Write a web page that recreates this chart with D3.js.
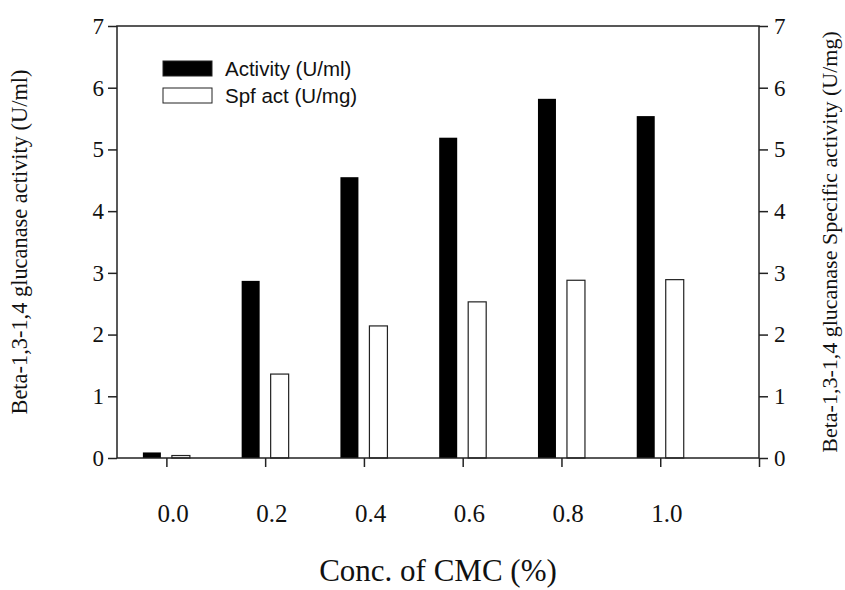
<!DOCTYPE html>
<html>
<head>
<meta charset="utf-8">
<script src="https://cdn.jsdelivr.net/npm/d3@7"></script>
<style>
  body { margin: 0; background: #fff; }
  svg { display: block; }
</style>
</head>
<body>
<div id="chart"></div>
<script>
// data
var concs = [0.0, 0.2, 0.4, 0.6, 0.8, 1.0];
var activity = [0.09, 2.87, 4.55, 5.19, 5.82, 5.54];   // U/ml
var spfAct = [0.04, 1.36, 2.14, 2.53, 2.88, 2.89];     // U/mg
var xTicks = [0.0, 0.2, 0.4, 0.6, 0.8, 1.0, 1.2];
var yTicks = [0, 1, 2, 3, 4, 5, 6, 7];
var legendNames = ['Activity (U/ml)', 'Spf act (U/mg)'];

const width = 845;
const height = 590;
const margin = {top: 26, right: 86, bottom: 132, left: 117};

const svg = d3.select('#chart').append('svg').attr('width', width).attr('height', height);

const x = d3.scaleLinear().domain([-0.1, 1.2]).range([margin.left, width - margin.right]);
const yL = d3.scaleLinear().domain([0, 7]).range([height - margin.bottom, margin.top]);
const yR = d3.scaleLinear().domain([0, 7]).range([height - margin.bottom, margin.top]);

const barW = 18;
const off = 14.5;

// bars
svg.append('g').selectAll('rect')
  .data(concs)
  .enter()
  .append('rect')
  .attr('x', (d) => x(d) - off - barW / 2)
  .attr('y', (d, i) => yL(activity[i]))
  .attr('width', barW)
  .attr('height', (d, i) => yL(0) - yL(activity[i]))
  .attr('fill', '#000');

svg.append('g').selectAll('rect')
  .data(concs)
  .enter()
  .append('rect')
  .attr('x', (d) => x(d) + off - barW / 2)
  .attr('y', (d, i) => yR(spfAct[i]))
  .attr('width', barW)
  .attr('height', (d, i) => yR(0) - yR(spfAct[i]))
  .attr('fill', '#fff')
  .attr('stroke', '#222')
  .attr('stroke-width', 1.2);

// frame
svg.append('rect')
  .attr('x', margin.left)
  .attr('y', margin.top)
  .attr('width', width - margin.left - margin.right)
  .attr('height', height - margin.top - margin.bottom)
  .attr('fill', 'none')
  .attr('stroke', '#222')
  .attr('stroke-width', 1.5);

// axes
const serif = '"Liberation Serif", "Times New Roman", serif';

const xAxis = svg.append('g')
  .attr('transform', `translate(0,${height - margin.bottom})`)
  .call(d3.axisBottom(x).tickValues(xTicks).tickSize(9).tickPadding(37)
    .tickFormat((d) => d > 1.01 ? '' : d3.format('.1f')(d)));

const leftAxis = svg.append('g')
  .attr('transform', `translate(${margin.left},0)`)
  .call(d3.axisLeft(yL).tickValues(yTicks).tickSize(9).tickPadding(4).tickFormat(d3.format('d')));

const rightAxis = svg.append('g')
  .attr('transform', `translate(${width - margin.right},0)`)
  .call(d3.axisRight(yR).tickValues(yTicks).tickSize(9).tickPadding(6).tickFormat(d3.format('d')));

[xAxis, leftAxis, rightAxis].forEach(function(g){
  g.select('.domain').remove();
  g.selectAll('.tick line').attr('stroke', '#222').attr('stroke-width', 1.5);
  g.selectAll('.tick text').attr('fill', '#111').style('font-family', serif);
});
xAxis.selectAll('.tick text').style('font-size', '25px').attr('dx', '0.25em');
leftAxis.selectAll('.tick text').style('font-size', '23px');
rightAxis.selectAll('.tick text').style('font-size', '23px');

// axis titles
svg.append('text')
  .attr('x', (x(-0.1) + x(1.2)) / 2)
  .attr('y', 581)
  .attr('text-anchor', 'middle')
  .style('font-family', serif)
  .style('font-size', '31px')
  .attr('fill', '#111')
  .text('Conc. of CMC (%)');

svg.append('text')
  .attr('transform', `translate(27,${(yL(0) + yL(7)) / 2}) rotate(-90)`)
  .attr('text-anchor', 'middle')
  .style('font-family', serif)
  .style('font-size', '22.4px')
  .attr('fill', '#111')
  .text('Beta-1,3-1,4 glucanase activity (U/ml)');

svg.append('text')
  .attr('transform', `translate(837,${(yL(0) + yL(7)) / 2}) rotate(-90)`)
  .attr('text-anchor', 'middle')
  .style('font-family', serif)
  .style('font-size', '22px')
  .attr('fill', '#111')
  .text('Beta-1,3-1,4 glucanase Specific activity (U/mg)');

// legend
const legend = svg.append('g').attr('transform', 'translate(163,61)');
legend.selectAll('rect')
  .data(legendNames)
  .enter()
  .append('rect')
  .attr('x', 0)
  .attr('y', (d, i) => i * 27)
  .attr('width', 49)
  .attr('height', 15)
  .attr('fill', (d, i) => i == 0 ? '#000' : '#fff')
  .attr('stroke', '#222')
  .attr('stroke-width', 1);
legend.selectAll('text')
  .data(legendNames)
  .enter()
  .append('text')
  .attr('x', 62)
  .attr('y', (d, i) => i * 27 + 15)
  .style('font-family', '"Liberation Sans", Arial, sans-serif')
  .style('font-size', '20.5px')
  .attr('fill', '#111')
  .text((d) => d);
</script>
</body>
</html>
